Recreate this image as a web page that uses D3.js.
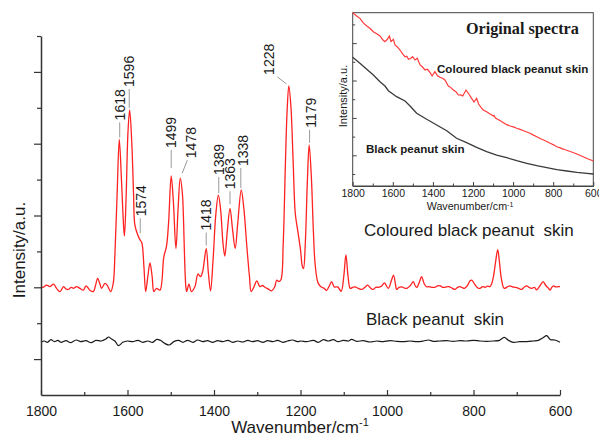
<!DOCTYPE html>
<html>
<head>
<meta charset="utf-8">
<script src="https://cdn.jsdelivr.net/npm/d3@7"></script>
<style>
body { margin: 0; background: #fff; }
text { font-family: "Liberation Sans", Arial, sans-serif; fill: #1a1a1a; }
</style>
</head>
<body>
<svg id="plot" width="599" height="438"></svg>
<script>
// ---- data (wavenumber, intensity in arbitrary units) ----
var colouredSpectrum = [
  [1800,302],[1795,300],[1787,306],[1779,302],[1771,309],[1764,297],[1756,288],[1748,302],[1743,296],
  [1737,294],[1730,300],[1725,297],[1718,302],[1710,297],[1702,292],[1696,304],[1691,298],[1687,292],
  [1679,288],[1674,305],[1669,325],[1664,310],[1660,297],[1652,311],[1647,306],[1639,288],[1633,311],
  [1629,394],[1624,560],[1619,712],[1614,600],[1609,470],[1607,443],[1603,560],[1599,730],[1595,794],
  [1590,700],[1586,560],[1583,474],[1576,445],[1571,432],[1567,425],[1562,357],[1558,288],[1553,330],
  [1548,368],[1543,330],[1539,288],[1533,297],[1525,292],[1516,385],[1510,413],[1505,480],[1499,610],
  [1494,540],[1488,408],[1483,520],[1478,604],[1473,560],[1471,507],[1465,300],[1463,288],[1458,309],
  [1452,288],[1444,302],[1437,337],[1431,330],[1426,345],[1418,408],[1413,340],[1408,290],[1402,380],
  [1396,500],[1390,557],[1385,520],[1379,420],[1375,387],[1369,460],[1363,520],[1357,460],[1351,408],
  [1345,480],[1337,571],[1331,520],[1324,413],[1318,330],[1314,288],[1308,300],[1301,318],[1294,302],
  [1288,305],[1282,300],[1274,295],[1267,290],[1260,300],[1255,320],[1250,316],[1245,322],[1240,420],
  [1235,640],[1231,790],[1227,861],[1222,800],[1217,650],[1212,505],[1206,455],[1200,405],[1196,360],
  [1193,352],[1189,420],[1184,600],[1180,697],[1175,610],[1170,450],[1166,362],[1159,311],[1151,300],
  [1145,297],[1140,291],[1133,305],[1128,316],[1122,301],[1114,301],[1106,289],[1100,330],[1095,390],
  [1090,330],[1085,297],[1079,300],[1074,301],[1066,297],[1058,294],[1051,300],[1045,306],[1038,298],
  [1032,294],[1026,300],[1020,300],[1013,303],[1006,312],[997,297],[990,318],[985,334],[980,305],
  [978,294],[972,300],[966,301],[960,298],[954,297],[946,305],[939,316],[935,305],[931,300],[925,315],
  [920,330],[914,310],[908,301],[904,302],[897,300],[889,300],[883,304],[877,304],[871,300],[866,300],
  [857,302],[850,298],[843,294],[837,300],[831,302],[826,299],[821,297],[814,305],[808,318],[804,320],
  [796,306],[790,298],[785,297],[779,302],[773,300],[768,303],[762,302],[758,310],[754,329],[749,370],
  [744,405],[740,370],[735,320],[729,297],[722,301],[716,304],[710,301],[704,300],[697,298],[689,294],
  [683,300],[677,304],[671,299],[665,297],[659,300],[654,293],[646,305],[639,316],[633,305],[627,298],
  [623,292],[619,300],[615,304],[610,301],[604,302],[600,302]
];

var blackSpectrum = [
  [1800,146.7],[1792,150.4],[1785,146.7],[1777,154.1],[1769,148.6],[1761,152.3],[1754,146.7],[1742,151.4],
  [1731,145.8],[1719,153.2],[1708,148.6],[1696,151.4],[1684,145.8],[1673,152.3],[1661,150.4],[1650,156],
  [1644,161.6],[1637,156],[1629,150.4],[1621,137.4],[1611,146.7],[1600,150.4],[1588,148.6],[1576,152.3],
  [1565,146.7],[1553,150.4],[1542,146.7],[1532,155.1],[1524,152.3],[1513,143],[1503,139.3],[1493,148.6],
  [1482,152.3],[1472,146.7],[1461,152.3],[1449,146.7],[1438,153.2],[1426,148.6],[1415,151.4],[1403,146.7],
  [1392,151.4],[1380,148.6],[1368,152.3],[1357,146.7],[1345,150.4],[1334,147.6],[1322,152.3],[1311,148.6],
  [1299,151.4],[1287,146.7],[1276,151.4],[1264,148.6],[1253,152.3],[1241,146.7],[1230,150.4],[1218,153.2],
  [1207,148.6],[1199,150.4],[1186,148.6],[1170,152.3],[1159,146.7],[1147,154.1],[1136,150.4],[1124,154.1],
  [1113,148.6],[1101,152.3],[1089,150.4],[1082,155.1],[1070,149.5],[1055,151.4],[1039,147.6],[1024,150.4],
  [1009,148.6],[993,151.4],[978,149.5],[962,148.6],[947,150.4],[931,148.6],[916,150.4],[904,153.2],
  [893,149.5],[878,150.4],[862,151.4],[847,149.5],[831,151.4],[816,150.4],[800,152.3],[785,150.4],
  [770,149.5],[754,150.4],[740,152.3],[729,160.6],[719,152.3],[708,146.7],[693,148.6],[677,148.6],
  [662,150.4],[650,152.3],[639,159.7],[631,165.3],[622,154.1],[612,153.2],[600,146.7]
];

// original (un-corrected) spectra for the inset
var insetColoured = [
  [1800,13625],[1782,13460],[1764,13325],[1747,13080],[1730,12914],[1713,12780],[1697,12609],[1680,12500],
  [1664,12379],[1650,12180],[1639,12074],[1627,12203],[1617,12379],[1609,12074],[1597,12203],[1589,11898],
  [1576,11780],[1564,11631],[1551,11420],[1539,11272],[1530,11300],[1522,11133],[1511,11180],[1501,11272],
  [1489,11096],[1478,11187],[1464,10829],[1452,10720],[1439,10561],[1427,10600],[1414,10417],[1404,10241],
  [1390,10470],[1377,10250],[1365,10171],[1352,10120],[1340,10027],[1323,9706],[1310,9620],[1298,9492],
  [1285,9400],[1273,9225],[1261,9230],[1251,9171],[1235,9492],[1223,9316],[1207,9048],[1195,8851],
  [1182,9048],[1172,8744],[1160,8560],[1149,8423],[1132,8330],[1115,8209],[1098,8102],[1095,8129],
  [1088,7995],[1068,7880],[1048,7744],[1032,7640],[1015,7568],[998,7520],[982,7445],[965,7390],
  [948,7316],[932,7250],[915,7177],[898,7080],[882,6996],[865,6900],[848,6819],[832,6740],[815,6643],
  [798,6560],[782,6461],[765,6400],[752,6330],[748,6338],[740,6300],[715,6204],[698,6140],[682,6071],
  [665,5990],[648,5910],[625,5800],[600,5697]
];

var insetBlack = [
  [1800,11240],[1764,10920],[1730,10599],[1697,10294],[1664,9936],[1639,9706],[1622,9455],[1581,9134],
  [1539,8904],[1514,8637],[1481,8247],[1431,7926],[1381,7621],[1331,7316],[1282,6910],[1232,6675],
  [1182,6429],[1132,6194],[1082,6017],[1032,5873],[982,5713],[932,5574],[882,5445],[832,5338],
  [782,5231],[732,5162],[682,5092],[632,5039],[600,5002]
];

var peakLabels = [1618, 1596, 1574, 1499, 1478, 1418, 1389, 1363, 1338, 1228, 1179];
var xMajorTicks = [1800, 1600, 1400, 1200, 1000, 800, 600];
var xMinorTicks = [1700, 1500, 1300, 1100, 900, 700];
var yMajorTicks = [100, 300, 500, 700, 900];
var yMinorTicks = [200, 400, 600, 800, 1000];
var insetYMajor = [6000, 8000, 10000, 12000];
var insetYMinor = [5000, 7000, 9000, 11000, 13000];

// leader line layout for the peak labels: gap above peak, line length, slant of line top/bottom, text shift
var labelLayout = {
  1618: {gap: 2, len: 15, bdx: 0, tdx: 0, txt: 0},
  1596: {gap: 2, len: 19, bdx: 0, tdx: 0, txt: 0},
  1574: {gap: 2, len: 15, bdx: 1.5, tdx: 1.5, txt: 2},
  1499: {gap: 8, len: 18, bdx: 0, tdx: 0, txt: 0},
  1478: {gap: 5, len: 13, bdx: 2, tdx: 7, txt: 11},
  1418: {gap: 3, len: 13, bdx: 0, tdx: 0, txt: 0},
  1389: {gap: 2, len: 16, bdx: 0, tdx: 0, txt: 0},
  1363: {gap: 4, len: 13, bdx: 0, tdx: 0, txt: 0},
  1338: {gap: 2, len: 20, bdx: 0, tdx: 0, txt: 2},
  1228: {gap: 2, len: 7, bdx: -2, tdx: -11, txt: -19},
  1179: {gap: 2, len: 13, bdx: 0, tdx: 0, txt: 1}
};

var svg = d3.select("#plot");

// ---------------- main plot ----------------
var x = d3.scaleLinear().domain([1800, 600]).range([41, 560]);
var y = d3.scaleLinear().domain([0, 1000]).range([395, 36]);

var line = d3.line()
    .x(function(d) { return x(d[0]); })
    .y(function(d) { return y(d[1]); })
    .curve(d3.curveCatmullRom.alpha(0.5));

svg.append("path")
    .datum(colouredSpectrum)
    .attr("d", line)
    .attr("fill", "none")
    .attr("stroke", "#ff2222")
    .attr("stroke-width", 1.3);

svg.append("path")
    .datum(blackSpectrum)
    .attr("d", line)
    .attr("fill", "none")
    .attr("stroke", "#1a1a1a")
    .attr("stroke-width", 1.2);

// x axis (ticks pointing in)
var gx = svg.append("g")
    .attr("transform", "translate(0,395)")
    .call(d3.axisBottom(x).tickValues(xMajorTicks).tickSizeInner(-5).tickSizeOuter(0).tickPadding(11)
        .tickFormat(d3.format("d")));
svg.append("g")
    .attr("transform", "translate(0,395)")
    .call(d3.axisBottom(x).tickValues(xMinorTicks).tickSize(-3).tickFormat(""))
    .select(".domain").remove();

// y axis (ticks pointing out, no labels)
var gy = svg.append("g")
    .attr("transform", "translate(41,0)")
    .call(d3.axisLeft(y).tickValues(yMajorTicks).tickSizeInner(7).tickSizeOuter(0).tickFormat(""));
svg.append("g")
    .attr("transform", "translate(41,0)")
    .call(d3.axisLeft(y).tickValues(yMinorTicks).tickSize(4).tickFormat(""))
    .select(".domain").remove();

svg.selectAll(".domain").attr("stroke", "#333").attr("stroke-width", 1.5);
svg.selectAll(".tick line").attr("stroke", "#333").attr("stroke-width", 1.2);
gx.selectAll(".tick text")
    .attr("font-size", 14)
    .attr("font-family", "Liberation Sans, Arial, sans-serif")
    .attr("fill", "#1a1a1a");

// axis titles
var xt = svg.append("text")
    .attr("x", 300)
    .attr("y", 433)
    .attr("text-anchor", "middle")
    .attr("font-size", 17);
xt.append("tspan").text("Wavenumber/cm");
xt.append("tspan").attr("dy", -7).attr("font-size", 11).text("-1");

svg.append("text")
    .attr("transform", "translate(24.5,250) rotate(-90)")
    .attr("text-anchor", "middle")
    .attr("font-size", 17)
    .text("Intensity/a.u.");

// series names
svg.append("text")
    .attr("x", 364).attr("y", 236)
    .attr("font-size", 17)
    .attr("xml:space", "preserve")
    .text("Coloured black peanut  skin");

svg.append("text")
    .attr("x", 366).attr("y", 325)
    .attr("font-size", 17)
    .attr("xml:space", "preserve")
    .text("Black peanut  skin");

// peak labels
function peakValue(w) {
    var best = 0;
    colouredSpectrum.forEach(function(d) {
        if (Math.abs(d[0] - w) <= 5 && d[1] > best) best = d[1];
    });
    return best;
}

var labels = svg.append("g").selectAll("g")
    .data(peakLabels)
    .enter().append("g");

labels.append("line")
    .attr("x1", function(d) { return x(d) + labelLayout[d].bdx; })
    .attr("y1", function(d) { return y(peakValue(d)) - labelLayout[d].gap; })
    .attr("x2", function(d) { return x(d) + labelLayout[d].tdx; })
    .attr("y2", function(d) { return y(peakValue(d)) - labelLayout[d].gap - labelLayout[d].len; })
    .attr("stroke", "#9a9a9a")
    .attr("stroke-width", 1);

labels.append("text")
    .attr("transform", function(d) {
        var L = labelLayout[d];
        var tx = x(d) + L.txt + 5;
        var ty = y(peakValue(d)) - L.gap - L.len - 2;
        return "translate(" + tx + "," + ty + ") rotate(-90)";
    })
    .attr("font-size", 14)
    .text(function(d) { return d; });

// ---------------- inset ----------------
var ix = d3.scaleLinear().domain([1800, 600]).range([352.7, 593.3]);
var iy = d3.scaleLinear().domain([4360, 13625]).range([186, 12.7]);

svg.append("rect")
    .attr("x", 352.7).attr("y", 12.7)
    .attr("width", 593.3 - 352.7).attr("height", 186 - 12.7)
    .attr("fill", "#fff")
    .attr("stroke", "#444")
    .attr("stroke-width", 1);

var iline = d3.line()
    .x(function(d) { return ix(d[0]); })
    .y(function(d) { return iy(d[1]); })
    .curve(d3.curveLinear);

svg.append("path")
    .datum(insetColoured)
    .attr("d", iline)
    .attr("fill", "none")
    .attr("stroke", "#ff3b3b")
    .attr("stroke-width", 1.2);

svg.append("path")
    .datum(insetBlack)
    .attr("d", iline)
    .attr("fill", "none")
    .attr("stroke", "#3a3a3a")
    .attr("stroke-width", 1.3);

var igx = svg.append("g")
    .attr("class", "inset-axis")
    .attr("transform", "translate(0,186)")
    .call(d3.axisBottom(ix).tickValues(xMajorTicks).tickSizeInner(-4).tickSizeOuter(0).tickPadding(4)
        .tickFormat(d3.format("d")));
svg.append("g")
    .attr("class", "inset-axis")
    .attr("transform", "translate(0,186)")
    .call(d3.axisBottom(ix).tickValues(xMinorTicks).tickSize(-2.5).tickFormat(""))
    .select(".domain").remove();
svg.append("g")
    .attr("class", "inset-axis")
    .attr("transform", "translate(352.7,0)")
    .call(d3.axisLeft(iy).tickValues(insetYMajor).tickSizeInner(-4).tickSizeOuter(0).tickFormat(""))
    .select(".domain").remove();
svg.append("g")
    .attr("class", "inset-axis")
    .attr("transform", "translate(352.7,0)")
    .call(d3.axisLeft(iy).tickValues(insetYMinor).tickSize(-2.5).tickFormat(""))
    .select(".domain").remove();

igx.select(".domain").attr("stroke", "#444").attr("stroke-width", 1);
igx.selectAll(".tick text")
    .attr("font-size", 10.5)
    .attr("font-family", "Liberation Sans, Arial, sans-serif")
    .attr("fill", "#222");
svg.selectAll(".inset-axis .tick line").attr("stroke", "#444").attr("stroke-width", 1);

var ixt = svg.append("text")
    .attr("x", 470).attr("y", 210)
    .attr("text-anchor", "middle")
    .attr("font-size", 10.7)
    .attr("fill", "#222");
ixt.append("tspan").text("Wavenumber/cm");
ixt.append("tspan").attr("dy", -3.5).attr("font-size", 7).text("-1");

svg.append("text")
    .attr("transform", "translate(346.7,96) rotate(-90)")
    .attr("text-anchor", "middle")
    .attr("font-size", 11)
    .attr("fill", "#222")
    .text("Intensity/a.u.");

svg.append("text")
    .attr("x", 466).attr("y", 33.5)
    .style("font-family", "'Liberation Serif', 'Times New Roman', serif")
    .attr("font-weight", "bold")
    .attr("font-size", 16.2)
    .text("Original spectra");

svg.append("text")
    .attr("x", 437).attr("y", 73)
    .attr("font-weight", "bold")
    .attr("font-size", 11.6)
    .attr("fill", "#222")
    .text("Coloured black peanut skin");

svg.append("text")
    .attr("x", 366).attr("y", 153.3)
    .attr("font-weight", "bold")
    .attr("font-size", 11.6)
    .attr("fill", "#222")
    .text("Black peanut skin");
</script>
</body>
</html>
